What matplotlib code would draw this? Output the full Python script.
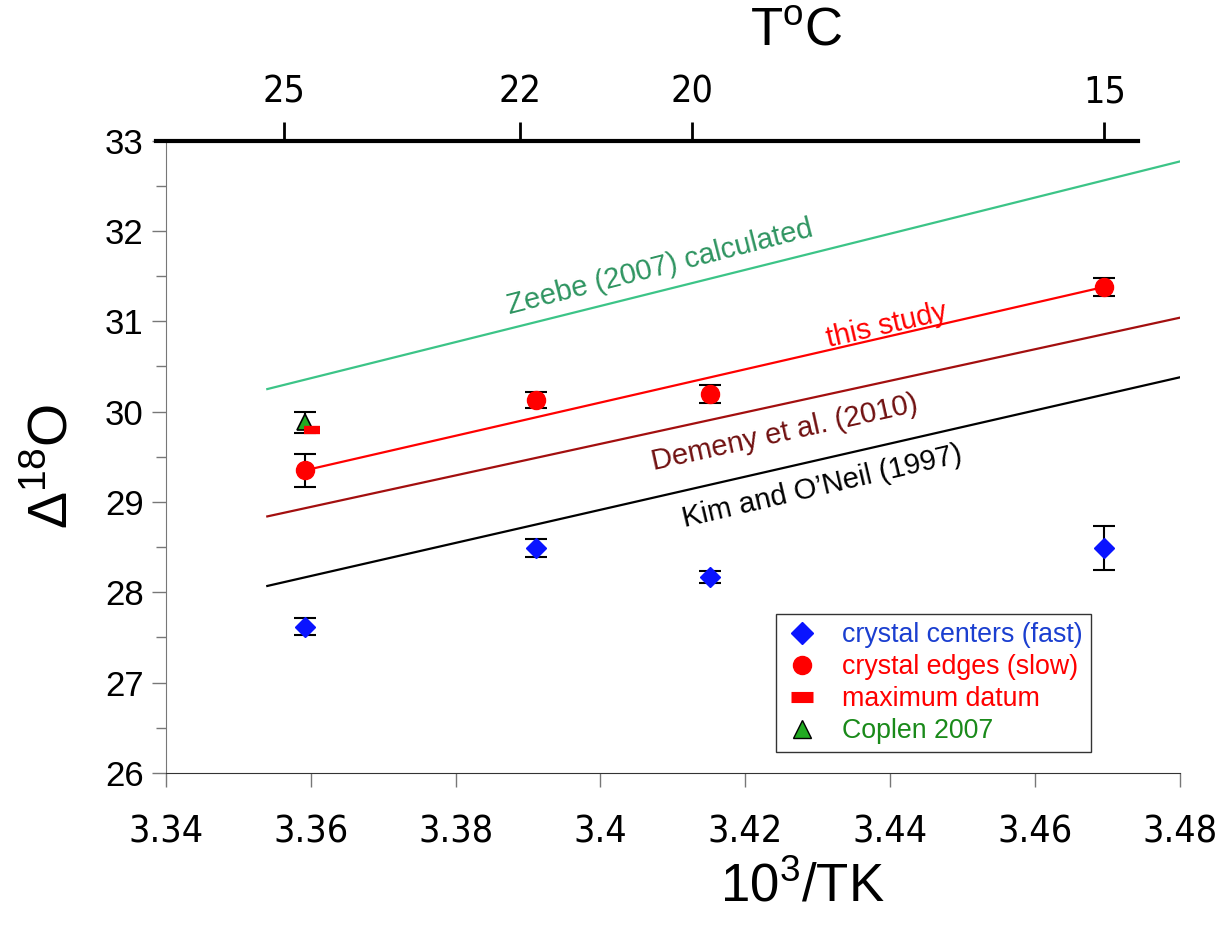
import numpy as np
import matplotlib.pyplot as plt
from matplotlib.lines import Line2D

plt.rcParams['font.family'] = ['Liberation Sans', 'DejaVu Sans']
plt.rcParams['mathtext.fontset'] = 'custom'
plt.rcParams['mathtext.rm'] = 'Liberation Sans'
NARROW = dict(family='DejaVu Sans', stretch='condensed')

# data
x_pts = [3.3592, 3.3911, 3.4151, 3.4695]
centers_y = [27.62, 28.49, 28.17, 28.49]
centers_err = [0.09, 0.10, 0.07, 0.24]
edges_y = [29.35, 30.13, 30.20, 31.38]
edges_err = [0.18, 0.085, 0.10, 0.10]
max_x, max_y = [3.3602], [29.80]
coplen_x, coplen_y, coplen_err = [3.3592], [29.88], [0.12]

# calibration lines (endpoints)
line_x = [3.354, 3.48]
zeebe_y = [30.25, 32.77]
demeny_y = [28.84, 31.04]
kim_y = [28.07, 30.38]
study_x = [3.3592, 3.4695]
study_y = [29.35, 31.38]

# upper temperature axis
top_ticks = [3.3563, 3.3889, 3.4127, 3.4696]
top_labels = ['25', '22', '20', '15']

fig = plt.figure(figsize=(12.2, 9.38), dpi=100)
ax = fig.add_axes([0.136, 0.176, 0.831, 0.674])

ax.plot(line_x, zeebe_y, color='#3cc487', lw=1.6)
ax.plot(line_x, demeny_y, color='#a30f0f', lw=1.6)
ax.plot(line_x, kim_y, color='black', lw=1.6)
ax.plot(study_x, study_y, color='red', lw=1.6)

eb = dict(fmt='none', ecolor='black', elinewidth=1.5, capsize=8, capthick=1.5, zorder=3)
ax.errorbar(x_pts, centers_y, yerr=centers_err, **eb)
ax.errorbar(x_pts, edges_y, yerr=edges_err, **eb)
ax.errorbar(coplen_x, coplen_y, yerr=coplen_err, **eb)

ax.plot(x_pts, centers_y, 'D', color='#0a14ff', ms=10, mec='#0a14ff', zorder=4)
ax.plot(x_pts, edges_y, 'o', color='red', ms=13, zorder=4)
ax.plot(coplen_x, coplen_y, '^', color='#22aa22', mec='black', mew=1.2, ms=11, zorder=4)
ax.plot(max_x, max_y, '_', color='red', ms=12, mew=6, zorder=5)

# line annotations
ax.text(3.4082, 31.60, 'Zeebe (2007) calculated', color='#2e9460', fontsize=21,
        rotation=14.4, ha='center', va='center')
ax.text(3.4396, 30.95, 'this study', color='red', fontsize=21,
        rotation=13, ha='center', va='center')
ax.text(3.4254, 29.76, 'Demeny et al. (2010)', color='#701010', fontsize=21,
        rotation=12.5, ha='center', va='center')
ax.text(3.4306, 29.17, 'Kim and O\u2019Neil (1997)', color='black', fontsize=21,
        rotation=13.2, ha='center', va='center')

ax.set_xlim(3.34, 3.48)
ax.set_ylim(26, 33)
ax.set_xticks(np.arange(3.34, 3.481, 0.02))
ax.set_xticklabels(['3.34', '3.36', '3.38', '3.4', '3.42', '3.44', '3.46', '3.48'],
                   fontsize=27, **NARROW)
ax.set_yticks(np.arange(26, 34, 1))
ax.set_yticks(np.arange(26.5, 33, 1), minor=True)
ax.tick_params(axis='y', labelsize=25, length=10, width=1, color='#777777', pad=6)
ax.tick_params(axis='y', which='minor', length=7, width=1, color='#777777')
ax.tick_params(axis='x', length=10, width=1, color='#777777', pad=20)

for s in ['top', 'right']:
    ax.spines[s].set_visible(False)
ax.spines['left'].set_color('#777777')
ax.spines['bottom'].set_color('#333333')

ax.set_xlabel('10$^3$/TK', fontsize=38)
ax.xaxis.set_label_coords(0.628, -0.14)
ax.set_ylabel('\u0394$^{18}$O', fontsize=40)
ax.yaxis.set_label_coords(-0.085, 0.485)

# temperature axis on top
top = ax.twiny()
top.set_xlim(ax.get_xlim())
for s in ['left', 'right', 'bottom']:
    top.spines[s].set_visible(False)
top.spines['top'].set_linewidth(3)
top.spines['top'].set_bounds(3.3386, 3.4743)
top.set_xticks(top_ticks)
top.set_xticklabels(top_labels, fontsize=27, **NARROW)
top.tick_params(axis='x', length=14, width=2, pad=8)
top.set_xlabel('T$^{\\rm o}$C', fontsize=38)
top.xaxis.set_label_coords(0.622, 1.15)

handles = [
    Line2D([], [], ls='none', marker='D', color='#0a14ff', ms=11),
    Line2D([], [], ls='none', marker='o', color='red', ms=13),
    Line2D([], [], ls='none', marker='_', color='red', ms=16, mew=8),
    Line2D([], [], ls='none', marker='^', color='#22aa22', mec='black', ms=13),
]
labels = ['crystal centers (fast)', 'crystal edges (slow)', 'maximum datum', 'Coplen 2007']
leg = ax.legend(handles, labels, loc='lower right', bbox_to_anchor=(0.912, 0.033),
                fontsize=19.3, frameon=True, fancybox=False, edgecolor='black',
                labelspacing=0.22, handletextpad=0.85, borderpad=0.3, handlelength=1.3,
                borderaxespad=0)
leg.get_frame().set_linewidth(1)
for t, c in zip(leg.get_texts(), ['#1b3fd0', 'red', 'red', '#1a8a1a']):
    t.set_color(c)

fig.savefig('out.png', dpi=100)
